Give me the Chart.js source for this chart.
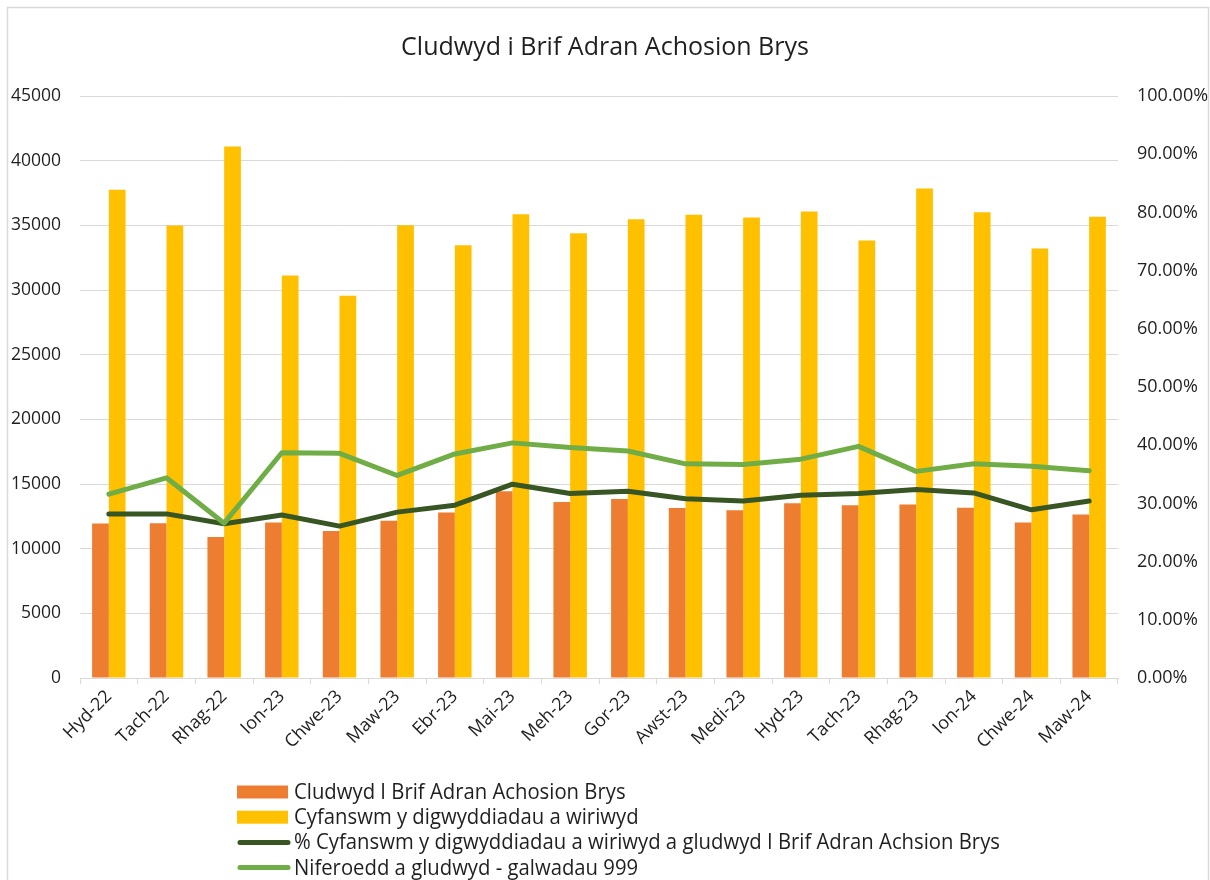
<!DOCTYPE html>
<html>
<head>
<meta charset="utf-8">
<script src="https://cdn.jsdelivr.net/npm/chart.js@4.4.1/dist/chart.umd.min.js"></script>
<style>
  html, body { margin: 0; padding: 0; background: #ffffff; }
  #wrap { position: relative; width: 1210px; height: 880px; }
</style>
</head>
<body>
<div id="wrap"><canvas id="c" width="1210" height="880"></canvas></div>
<script>
const titleText = 'Cludwyd i Brif Adran Achosion Brys';
const months = ['Hyd-22','Tach-22','Rhag-22','Ion-23','Chwe-23','Maw-23','Ebr-23','Mai-23','Meh-23','Gor-23','Awst-23','Medi-23','Hyd-23','Tach-23','Rhag-23','Ion-24','Chwe-24','Maw-24'];
const cludwyd = [11950, 11970, 10900, 12030, 11360, 12150, 12800, 14430, 13600, 13840, 13140, 12980, 13510, 13350, 13410, 13170, 12030, 12650];
const cyfanswm = [37760, 34990, 41100, 31130, 29560, 35000, 33460, 35850, 34380, 35480, 35820, 35610, 36070, 33830, 37850, 36010, 33210, 35670];
const pctCyfanswm = [28.2, 28.2, 26.5, 28.0, 26.1, 28.5, 29.7, 33.3, 31.7, 32.1, 30.8, 30.4, 31.4, 31.7, 32.4, 31.8, 28.9, 30.4];
const niferoedd = [31.6, 34.4, 26.6, 38.7, 38.6, 34.8, 38.5, 40.4, 39.6, 39.0, 36.8, 36.7, 37.6, 39.8, 35.5, 36.8, 36.4, 35.6];
const seriesNames = [
  'Cludwyd I Brif Adran Achosion Brys',
  'Cyfanswm y digwyddiadau a wiriwyd',
  '% Cyfanswm y digwyddiadau a wiriwyd a gludwyd I Brif Adran Achsion Brys',
  'Niferoedd a gludwyd - galwadau 999'
];
const leftTicks = { min: 0, max: 45000, step: 5000 };
const rightTicks = { min: 0, max: 100, step: 10 };

const FONT = "'Open Sans', 'Noto Sans', sans-serif";
const TXT = '#1f1f1f';
const GRID = '#d9d9d9';

Chart.defaults.font.family = FONT;
Chart.defaults.color = TXT;

const borderPlugin = {
  id: 'outerBorder',
  beforeDraw(chart) {
    const ctx = chart.ctx;
    ctx.save();
    ctx.fillStyle = '#ffffff';
    ctx.fillRect(0, 0, chart.width, chart.height);
    ctx.strokeStyle = GRID;
    ctx.lineWidth = 1.5;
    ctx.strokeRect(7.5, 7.5, chart.width - 9, chart.height + 20);
    ctx.restore();
  }
};

const legendPlugin = {
  id: 'stackLegend',
  afterDraw(chart) {
    const ctx = chart.ctx;
    const ds = chart.data.datasets;
    ctx.save();
    ctx.font = '21px ' + FONT;
    let maxW = 0;
    ds.forEach(d => { maxW = Math.max(maxW, ctx.measureText(d.label).width); });
    const sx = 706 / maxW;
    const x0 = 237, textX = 294, y0 = 792, dy = 25.2;
    ds.forEach((d, i) => {
      const y = y0 + i * dy;
      if (d.type === 'line') {
        ctx.strokeStyle = d.borderColor;
        ctx.lineWidth = 5;
        ctx.lineCap = 'round';
        ctx.beginPath();
        ctx.moveTo(x0 + 3, y);
        ctx.lineTo(x0 + 51, y);
        ctx.stroke();
      } else {
        ctx.fillStyle = d.backgroundColor;
        ctx.fillRect(x0, y - 6.5, 51, 13);
      }
      ctx.save();
      ctx.translate(textX, y);
      ctx.scale(sx, 1);
      ctx.fillStyle = TXT;
      ctx.textBaseline = 'middle';
      ctx.textAlign = 'left';
      ctx.fillText(d.label, 0, 1);
      ctx.restore();
    });
    ctx.restore();
  }
};

new Chart(document.getElementById('c'), {
  data: {
    labels: months,
    datasets: [
      { type: 'bar', label: seriesNames[0], data: cludwyd, backgroundColor: '#ED7D31', yAxisID: 'y', order: 2,
        categoryPercentage: 0.58, barPercentage: 1.0 },
      { type: 'bar', label: seriesNames[1], data: cyfanswm, backgroundColor: '#FFC000', yAxisID: 'y', order: 2,
        categoryPercentage: 0.58, barPercentage: 1.0 },
      { type: 'line', label: seriesNames[2], data: pctCyfanswm, borderColor: '#375623', backgroundColor: '#375623',
        yAxisID: 'y1', borderWidth: 5, pointRadius: 0, tension: 0, borderCapStyle: 'round', borderJoinStyle: 'round', order: 1 },
      { type: 'line', label: seriesNames[3], data: niferoedd, borderColor: '#70AD47', backgroundColor: '#70AD47',
        yAxisID: 'y1', borderWidth: 5, pointRadius: 0, tension: 0, borderCapStyle: 'round', borderJoinStyle: 'round', order: 0 }
    ]
  },
  options: {
    responsive: false,
    animation: false,
    layout: { padding: 0 },
    plugins: {
      legend: { display: false },
      tooltip: { enabled: false },
      title: {
        display: true,
        text: titleText,
        color: TXT,
        font: { size: 25, weight: 'normal', family: FONT, lineHeight: 1.2 },
        padding: { top: 33, bottom: 33 }
      }
    },
    scales: {
      x: {
        offset: true,
        grid: { display: true, drawOnChartArea: false, drawTicks: true, tickLength: 6, offset: true, color: GRID },
        border: { display: true, color: GRID, width: 1 },
        ticks: { font: { size: 18 }, color: TXT, minRotation: 45, maxRotation: 45, padding: 2, autoSkip: false },
        afterFit(s) { s.height = 202; }
      },
      y: {
        position: 'left',
        min: leftTicks.min, max: leftTicks.max,
        grid: { color: GRID, drawTicks: false, lineWidth: 1 },
        border: { display: false },
        ticks: { stepSize: leftTicks.step, font: { size: 17.5 }, color: TXT, padding: 19,
          callback: v => String(v) },
        afterFit(s) { s.width = 80; }
      },
      y1: {
        position: 'right',
        min: rightTicks.min, max: rightTicks.max,
        grid: { display: false, drawTicks: false },
        border: { display: false },
        ticks: { stepSize: rightTicks.step, font: { size: 18 }, color: TXT, padding: 19,
          callback: v => Number(v).toFixed(2) + '%' },
        afterFit(s) { s.width = 92; }
      }
    }
  },
  plugins: [borderPlugin, legendPlugin]
});
</script>
</body>
</html>
